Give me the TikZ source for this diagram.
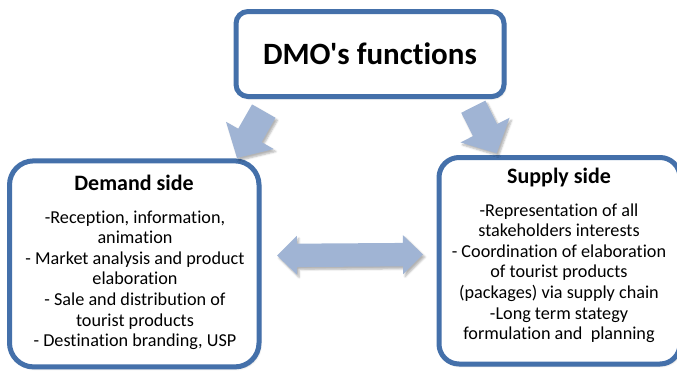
\documentclass[tikz,border=0pt]{standalone}
\usepackage{fontspec}
\setmainfont{Carlito}[Ligatures={TeXOff,NoCommon}]
\usetikzlibrary{calc,shadows.blur}

\definecolor{frameblue}{RGB}{68,112,170}
\definecolor{arrowblue}{RGB}{160,180,212}

\tikzset{
  panel/.style={draw=frameblue, line width=5pt, fill=white, rounded corners=#1,
    inner sep=0pt,
    blur shadow={shadow xshift=1.5pt, shadow yshift=-2pt, shadow opacity=22, shadow blur steps=6}},
  headtext/.style={font=\fontsize{22}{26}\selectfont\bfseries, inner sep=0pt, anchor=base},
  bodytext/.style={font=\fontsize{18.2}{20.6}\selectfont, inner sep=0pt, anchor=base},
  blockfill/.style={fill=arrowblue,
    blur shadow={shadow xshift=2pt, shadow yshift=-2.5pt, shadow opacity=30, shadow blur steps=5}},
}

% single block arrow from <name>-s (tail) to <name>-t (tip)
\newcommand\singleblock[1]{%
  \coordinate (#1-n) at ($(#1-t)!26pt!(#1-s)$);
  \fill[blockfill] ($(#1-s)!13.5pt!90:(#1-t)$) -- ($(#1-n)!13.5pt!90:(#1-t)$)
    -- ($(#1-n)!27.5pt!90:(#1-t)$) -- (#1-t) -- ($(#1-n)!27.5pt!-90:(#1-t)$)
    -- ($(#1-n)!13.5pt!-90:(#1-t)$) -- ($(#1-s)!13.5pt!-90:(#1-t)$) -- cycle;
}

\begin{document}
\begin{tikzpicture}[x=1pt,y=-1pt]
  \useasboundingbox (0,0) rectangle (677,370);

  % boxes
  \node[panel=12pt, minimum width=268pt, minimum height=85pt,
        font=\fontsize{31}{36}\selectfont\bfseries] (dmo) at (370,54) {DMO's functions};
  \node[panel=24pt, minimum width=249.5pt, minimum height=206pt] (demand) at (134.25,263.9) {};
  \node[panel=20pt, minimum width=241pt, minimum height=206.5pt] (supply) at (559.5,260.75) {};

  % demand side text
  \node[headtext] (demandhead) at (134,190) {Demand side};
  \node[bodytext] (demandlist) at (135,223) {\begin{tabular}[t]{@{}c@{}}
    -Reception, information,\\
    animation\\
    - Market analysis and product\\
    elaboration\\
    - Sale and distribution of\\
    tourist products\\
    - Destination branding, USP
  \end{tabular}};

  % supply side text
  \node[headtext] (supplyhead) at (559,183) {Supply side};
  \node[bodytext] (supplylist) at (559,216) {\begin{tabular}[t]{@{}c@{}}
    -Representation of all\\
    stakeholders interests\\
    - Coordination of elaboration\\
    of tourist products\\
    (packages) via supply chain\\
    -Long term stategy\\
    formulation and~ planning
  \end{tabular}};

  % arrows from the top box
  \coordinate (la-s) at (263.8,111.1);
  \coordinate (la-t) at (237,158);
  \singleblock{la}
  \coordinate (ra-s) at (473.3,106.7);
  \coordinate (ra-t) at (496.7,153.3);
  \singleblock{ra}

  % two-way arrow between the sides
  \coordinate (da-l) at (277,255.5);
  \coordinate (da-r) at (423,254.5);
  \coordinate (da-nl) at ($(da-l)!20pt!(da-r)$);
  \coordinate (da-nr) at ($(da-r)!20pt!(da-l)$);
  \fill[blockfill] (da-l) -- ($(da-nl)!19.5pt!90:(da-r)$) -- ($(da-nl)!11.7pt!90:(da-r)$)
    -- ($(da-nr)!11.7pt!-90:(da-l)$) -- ($(da-nr)!19.5pt!-90:(da-l)$) -- (da-r)
    -- ($(da-nr)!19.5pt!90:(da-l)$) -- ($(da-nr)!11.7pt!90:(da-l)$)
    -- ($(da-nl)!11.7pt!-90:(da-r)$) -- ($(da-nl)!19.5pt!-90:(da-r)$) -- cycle;
\end{tikzpicture}
\end{document}
